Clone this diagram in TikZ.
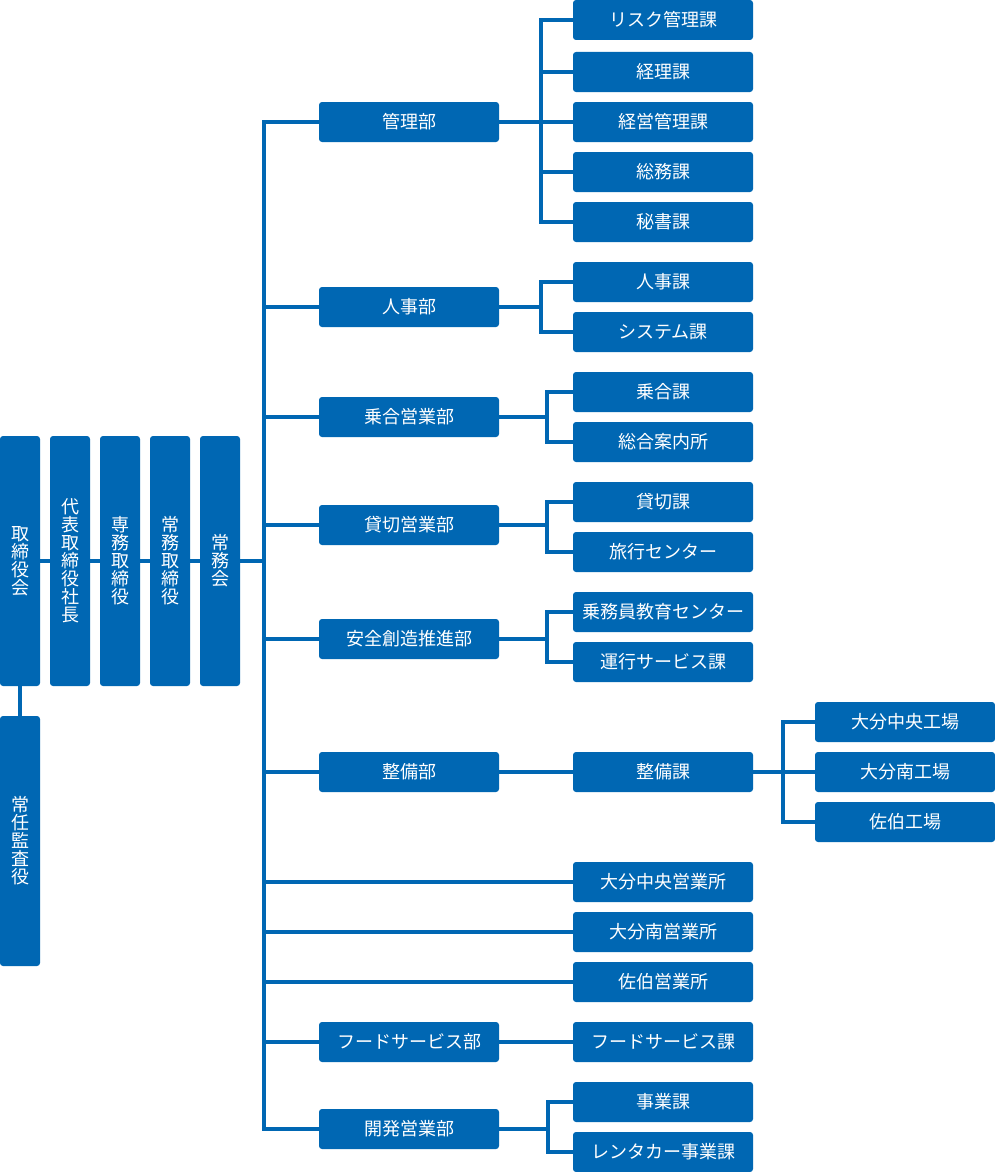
\documentclass[tikz,border=0pt]{standalone}
\usepackage{fontspec}
\setmainfont{Noto Sans CJK JP}
\definecolor{ao}{RGB}{0,103,179}
\begin{document}
\begin{tikzpicture}[x=1pt,y=-1pt,line width=4pt,color=ao,
	box/.style={fill=ao,rounded corners=3pt,text=white,inner sep=0pt,outer sep=0pt,
		font=\fontsize{18}{18}\selectfont},
	bubox/.style={box,minimum width=180pt,minimum height=40pt},
	tate/.style={box,minimum width=40pt,minimum height=250pt,align=center}]
\useasboundingbox (0,0) rectangle (995,1172);
\node[tate] (torishimari) at (20,561) {取\\締\\役\\会};
\node[tate] (shacho) at (70,561) {代\\表\\取\\締\\役\\社\\長};
\node[tate] (senmu) at (120,561) {専\\務\\取\\締\\役};
\node[tate] (jomu) at (170,561) {常\\務\\取\\締\\役};
\node[tate] (jomukai) at (220,561) {常\\務\\会};
\node[tate] (kansa) at (20,841) {常\\任\\監\\査\\役};
\def\bu#1#2#3{
	\node[bubox] (#1) at (409,#2) {#3};
}
\bu{kanri}{122}{管理部}
\bu{jinji}{307}{人事部}
\bu{noriai}{417}{乗合営業部}
\bu{kashikiri}{525}{貸切営業部}
\bu{anzen}{639}{安全創造推進部}
\bu{seibi}{772}{整備部}
\bu{food}{1042}{フードサービス部}
\bu{kaihatsu}{1129}{開発営業部}
\def\ka#1#2#3{
	\node[bubox] (#1) at (663,#2) {#3};
}
\ka{risk}{20}{リスク管理課}
\ka{keiri}{72}{経理課}
\ka{keiei}{122}{経営管理課}
\ka{somu}{172}{総務課}
\ka{hisho}{222}{秘書課}
\ka{jinjika}{282}{人事課}
\ka{system}{332}{システム課}
\ka{noriaika}{392}{乗合課}
\ka{annai}{442}{総合案内所}
\ka{kashikirika}{502}{貸切課}
\ka{ryoko}{552}{旅行センター}
\ka{jomuin}{612}{乗務員教育センター}
\ka{unko}{662}{運行サービス課}
\ka{seibika}{772}{整備課}
\ka{oitaeig}{882}{大分中央営業所}
\ka{minamieig}{932}{大分南営業所}
\ka{saikieig}{982}{佐伯営業所}
\ka{foodka}{1042}{フードサービス課}
\ka{jigyo}{1102}{事業課}
\ka{rental}{1152}{レンタカー事業課}
\def\jo#1#2#3{
	\node[bubox] (#1) at (905,#2) {#3};
}
\jo{oitako}{722}{大分中央工場}
\jo{minamiko}{772}{大分南工場}
\jo{saikiko}{822}{佐伯工場}
\draw (torishimari) -- (shacho) -- (senmu) -- (jomu) -- (jomukai);
\draw (torishimari) -- (kansa);
\coordinate (hub) at (264,561);
\draw (jomukai) -- (hub);
\draw (kanri.west) -| (hub) |- (kaihatsu.west);
\foreach \b in {jinji,noriai,kashikiri,anzen,seibi,food,oitaeig,minamieig,saikieig}
	\draw (\b.west) -- (\b.west -| hub);
\coordinate (kb) at (541,122);
\draw (risk.west) -| (kb) |- (hisho.west);
\draw (kanri) -- (keiei);
\foreach \k in {keiri,somu}
	\draw (\k.west) -- (\k.west -| kb);
\coordinate (jb) at (541,307);
\draw (jinji) -- (jb);
\draw (jinjika.west) -| (jb) |- (system.west);
\coordinate (nb) at (547,417);
\draw (noriai) -- (nb);
\draw (noriaika.west) -| (nb) |- (annai.west);
\coordinate (sb) at (547,525);
\draw (kashikiri) -- (sb);
\draw (kashikirika.west) -| (sb) |- (ryoko.west);
\coordinate (ab) at (547,639);
\draw (anzen) -- (ab);
\draw (jomuin.west) -| (ab) |- (unko.west);
\draw (seibi) -- (seibika);
\coordinate (eb) at (783,772);
\draw (seibika) -- (minamiko);
\draw (oitako.west) -| (eb) |- (saikiko.west);
\draw (food) -- (foodka);
\coordinate (hb) at (548,1129);
\draw (kaihatsu) -- (hb);
\draw (jigyo.west) -| (hb) |- (rental.west);
\end{tikzpicture}
\end{document}
